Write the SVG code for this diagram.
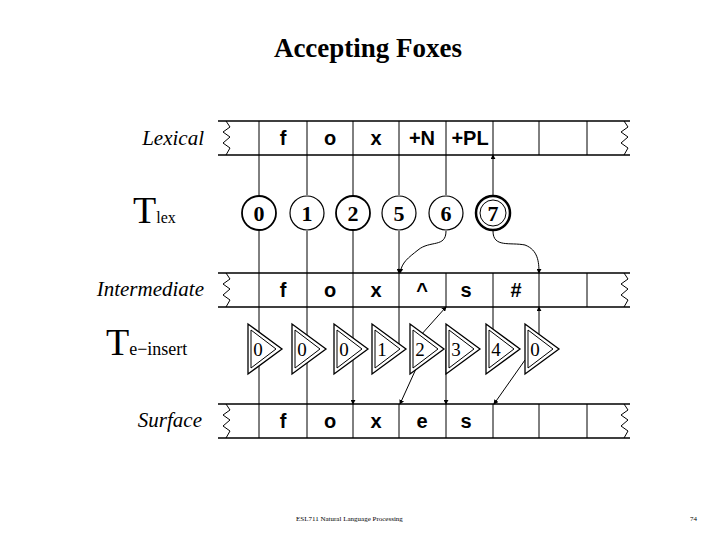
<svg xmlns="http://www.w3.org/2000/svg" width="720" height="540" viewBox="0 0 720 540">
<defs>
<style>
.t{fill:none;stroke:#000;stroke-width:1.6}
.c{fill:none;stroke:#000;stroke-width:1}
.lbl{font-family:"Liberation Serif",serif;font-style:italic;font-size:21px;text-anchor:end}
.sym{font-family:"Liberation Sans",sans-serif;font-weight:bold;font-size:20px;text-anchor:middle}
.tn{font-family:"Liberation Serif",serif;font-size:19px;text-anchor:middle}
</style>
<marker id="a" viewBox="0 0 6 6" refX="5" refY="3" markerWidth="5" markerHeight="5" orient="auto"><path d="M0,0L6,3L0,6z"/></marker>
<g id="tape"><path class="t" d="M218,0H630M218,34H630"/><path class="c" d="M226,0l4,6l-7,5l7,5l-7,6l7,5l-4,7M624,0l4,6l-7,5l7,5l-7,6l7,5l-4,7"/><path class="c" d="M259,0v34M307,0v34M353,0v34M399,0v34M446,0v34M493,0v34M539,0v34M587,0v34"/></g>
<g id="tri"><path d="M0,-25V25L34,0z" fill="#fff" stroke="#000" stroke-width="1.3"/><path d="M3,-19V19L28,0z" fill="none" stroke="#000" stroke-width="1"/></g>
</defs>
<text x="368" y="57" text-anchor="middle" font-family="Liberation Serif,serif" font-weight="bold" font-size="27">Accepting Foxes</text>
<g id="lexical"><use href="#tape" y="121"/><text class="lbl" x="204" y="145">Lexical</text>
<text class="sym" x="283" y="145">f</text><text class="sym" x="330" y="145">o</text><text class="sym" x="376" y="145">x</text><text class="sym" x="422" y="145">+N</text><text class="sym" x="470" y="145">+PL</text></g>
<g id="intermediate"><use href="#tape" y="273"/><text class="lbl" x="204" y="296">Intermediate</text>
<text class="sym" x="283" y="297">f</text><text class="sym" x="330" y="297">o</text><text class="sym" x="376" y="297">x</text><text class="sym" x="422" y="297">^</text><text class="sym" x="466" y="297">s</text><text class="sym" x="516" y="297">#</text></g>
<g id="surface"><use href="#tape" y="404"/><text class="lbl" x="202" y="427">Surface</text>
<text class="sym" x="283" y="428">f</text><text class="sym" x="330" y="428">o</text><text class="sym" x="376" y="428">x</text><text class="sym" x="422" y="428">e</text><text class="sym" x="466" y="428">s</text></g>
<text x="133" y="223" font-family="Liberation Serif,serif" font-size="38">T<tspan font-size="16">lex</tspan></text>
<text x="106" y="355" font-family="Liberation Serif,serif" font-size="38">T<tspan font-size="18">e−insert</tspan></text>
<g id="connectors" class="c" marker-end="url(#a)">
<path d="M259,195V155M307,195V155M353,195V155M399,195V155M446,195V155M493,195V155"/>
<path d="M259,231V273M307,231V273M353,231V273M399,231V273"/>
<path d="M446,231C446,248 430,240 418,250C408,258 402,262 400,273"/>
<path d="M493,231C493,248 510,242 525,245C538,250 539,262 539,273"/>
<path d="M259,350V307M307,350V307M353,350V307M399,350V307M493,345V307M539,345V307"/>
<path d="M259,350V404M307,350V404M353,350V404"/>
<path d="M412,345L446,307"/>
<path d="M420,360L400,404"/>
<path d="M446,350V404"/>
<path d="M525,360L494,404"/>
</g>
<g id="tlex" font-family="Liberation Serif,serif" font-weight="bold" font-size="22" text-anchor="middle">
<g id="s0"><circle cx="259" cy="213" r="17" fill="#fff" stroke="#000" stroke-width="1.8"/><text x="259" y="221">0</text></g>
<g id="s1"><circle cx="307" cy="213" r="17" fill="#fff" stroke="#000" stroke-width="1.2"/><text x="307" y="221">1</text></g>
<g id="s2"><circle cx="353" cy="213" r="17" fill="#fff" stroke="#000" stroke-width="1.8"/><text x="353" y="221">2</text></g>
<g id="s5"><circle cx="399" cy="213" r="17" fill="#fff" stroke="#000" stroke-width="1.2"/><text x="399" y="221">5</text></g>
<g id="s6"><circle cx="446" cy="213" r="17" fill="#fff" stroke="#000" stroke-width="1.2"/><text x="446" y="221">6</text></g>
<g id="s7"><circle cx="493" cy="213" r="17" fill="#fff" stroke="#000" stroke-width="2.5"/><circle cx="493" cy="213" r="13" fill="none" stroke="#000" stroke-width="1"/><text x="493" y="221">7</text></g>
</g>
<g id="teinsert">
<g id="e1"><use href="#tri" x="248" y="349"/><text class="tn" x="258" y="356">0</text></g>
<g id="e2"><use href="#tri" x="292" y="349"/><text class="tn" x="302" y="356">0</text></g>
<g id="e3"><use href="#tri" x="334" y="349"/><text class="tn" x="344" y="356">0</text></g>
<g id="e4"><use href="#tri" x="372" y="349"/><text class="tn" x="382" y="356">1</text></g>
<g id="e5"><use href="#tri" x="410" y="349"/><text class="tn" x="420" y="356">2</text></g>
<g id="e6"><use href="#tri" x="446" y="349"/><text class="tn" x="456" y="356">3</text></g>
<g id="e7"><use href="#tri" x="486" y="349"/><text class="tn" x="496" y="356">4</text></g>
<g id="e8"><use href="#tri" x="525" y="349"/><text class="tn" x="535" y="356">0</text></g>
</g>
<g font-family="Liberation Serif,serif" font-size="7"><text x="296" y="521">ESL711 Natural Language Processing</text><text x="690" y="521">74</text></g>
</svg>
